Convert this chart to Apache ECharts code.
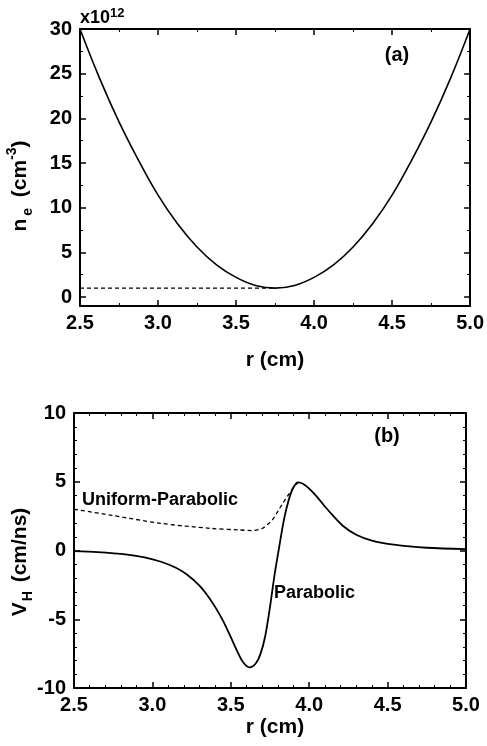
<!DOCTYPE html>
<html>
<head>
<meta charset="utf-8">
<script src="https://cdn.jsdelivr.net/npm/echarts@6/dist/echarts.min.js"></script>
<style>
html,body{margin:0;padding:0;background:#fff;}
#c{width:487px;height:746px;}
</style>
</head>
<body>
<div id="c"></div>
<script>
// ---- Panel (a): electron density profiles (x10^12 cm^-3) ----
var rA = [2.5, 2.625, 2.75, 2.875, 3.0, 3.125, 3.25, 3.375, 3.5, 3.625, 3.75, 3.875, 4.0, 4.125, 4.25, 4.375, 4.5, 4.625, 4.75, 4.875, 5.0];
var neParabolic = [30, 24.5, 19.6, 15.3, 11.4, 8.2, 5.6, 3.6, 2.2, 1.3, 1.0, 1.3, 2.2, 3.6, 5.6, 8.2, 11.4, 15.3, 19.6, 24.5, 30];
var rUniform = [2.5, 3.75];
var neUniform = [1.0, 1.0];

// ---- Panel (b): Hall velocity (cm/ns) ----
var rB = [2.5, 2.65, 2.84, 2.95, 3.05, 3.15, 3.22, 3.3, 3.35, 3.4, 3.45, 3.5, 3.54, 3.58, 3.62, 3.66, 3.69, 3.72, 3.75, 3.78, 3.81, 3.84, 3.87, 3.9, 3.93, 3.96, 4.0, 4.05, 4.1, 4.155, 4.22, 4.3, 4.4, 4.54, 4.75, 5.0];
var vParabolic = [-0.05, -0.12, -0.3, -0.5, -0.8, -1.25, -1.75, -2.55, -3.25, -4.1, -5.1, -6.3, -7.3, -8.15, -8.5, -8.2, -7.5, -6.2, -4.1, -1.7, 0.35, 2.3, 3.7, 4.6, 4.96, 4.85, 4.5, 3.9, 3.2, 2.5, 1.75, 1.15, 0.72, 0.42, 0.2, 0.1];
var rUP = [2.5, 2.73, 3.05, 3.37, 3.55, 3.64, 3.7, 3.74, 3.77, 3.8, 3.83, 3.87, 3.9, 3.93];
var vUniformParabolic = [3.0, 2.58, 1.98, 1.61, 1.5, 1.45, 1.6, 1.95, 2.3, 2.85, 3.4, 4.1, 4.6, 4.96];

function pairs(xs, ys) { return xs.map(function (x, i) { return [x, ys[i]]; }); }

var FONT = '"Liberation Sans", Arial, sans-serif';
var axisLine = { show: true, onZero: false, lineStyle: { color: '#000', width: 2 } };
function xAxisDef(gi, pos, labels, minorSplit) {
  return {
    type: 'value', gridIndex: gi, position: pos, min: 2.5, max: 5.0, interval: 0.5,
    axisLine: axisLine,
    axisTick: { show: true, inside: true, length: 6, lineStyle: { color: '#000', width: 1.5 } },
    minorTick: { show: true, splitNumber: minorSplit, length: 3, lineStyle: { color: '#000', width: 1 } },
    splitLine: { show: false },
    axisLabel: {
      show: labels, margin: 7, color: '#000', fontFamily: FONT, fontWeight: 'bold', fontSize: 20,
      formatter: function (v) { return v.toFixed(1); }
    }
  };
}
function yAxisDef(gi, pos, labels, opts) {
  var a = {
    type: 'value', gridIndex: gi, position: pos,
    axisLine: axisLine,
    axisTick: { show: true, inside: true, length: 6, lineStyle: { color: '#000', width: 1.5 } },
    minorTick: { show: true, splitNumber: opts.minorSplit, length: 3, lineStyle: { color: '#000', width: 1 } },
    splitLine: { show: false },
    axisLabel: {
      show: labels, margin: 8, color: '#000', fontFamily: FONT, fontWeight: 'bold', fontSize: 20,
      formatter: function (v) { return (Math.round(v) % 5 === 0 && Math.abs(v - Math.round(v)) < 1e-9) ? String(Math.round(v)) : ''; }
    }
  };
  for (var k in opts) if (k !== 'minorSplit') a[k] = opts[k];
  return a;
}

var chart = echarts.init(document.getElementById('c'), null, { renderer: 'canvas' });
chart.setOption({
  backgroundColor: '#fff',
  animation: false,
  grid: [
    { left: 80, top: 29, width: 391, height: 277 },
    { left: 74, top: 413, width: 392, height: 275 }
  ],
  xAxis: [
    xAxisDef(0, 'bottom', true, 2),
    xAxisDef(0, 'top', false, 2),
    xAxisDef(1, 'bottom', true, 5),
    xAxisDef(1, 'top', false, 5)
  ],
  yAxis: [
    yAxisDef(0, 'left', true, { min: -1, max: 30, splitNumber: 6, minorSplit: 2 }),
    yAxisDef(0, 'right', false, { min: -1, max: 30, splitNumber: 6, minorSplit: 2 }),
    yAxisDef(1, 'left', true, { min: -10, max: 10, interval: 5, minorSplit: 5 }),
    yAxisDef(1, 'right', false, { min: -10, max: 10, interval: 5, minorSplit: 5 })
  ],
  series: [
    { name: 'Parabolic (a)', type: 'line', xAxisIndex: 0, yAxisIndex: 0, data: pairs(rA, neParabolic), smooth: 0.4, showSymbol: false,
      lineStyle: { color: '#000', width: 1.6 } },
    { name: 'Uniform (a)', type: 'line', xAxisIndex: 0, yAxisIndex: 0, data: pairs(rUniform, neUniform), showSymbol: false,
      lineStyle: { color: '#000', width: 1.2, type: [4, 3] } },
    { name: 'Parabolic', type: 'line', xAxisIndex: 2, yAxisIndex: 2, data: pairs(rB, vParabolic), smooth: 0.3, showSymbol: false,
      lineStyle: { color: '#000', width: 1.8 } },
    { name: 'Uniform-Parabolic', type: 'line', xAxisIndex: 2, yAxisIndex: 2, data: pairs(rUP, vUniformParabolic), smooth: 0.3, showSymbol: false,
      lineStyle: { color: '#000', width: 1.3, type: [4, 3] } }
  ],
  graphic: [
    { type: 'text', left: 80, top: 7, style: {
      text: '{m|x10}{s|12}', fill: '#000',
      rich: { m: { fontFamily: FONT, fontWeight: 'bold', fontSize: 18, verticalAlign: 'bottom', lineHeight: 20 },
              s: { fontFamily: FONT, fontWeight: 'bold', fontSize: 13, verticalAlign: 'top', lineHeight: 20 } } } },
    { type: 'text', x: 397, y: 55, style: { text: '(a)', fill: '#000', font: 'bold 20px ' + FONT, textAlign: 'center', textVerticalAlign: 'middle' } },
    { type: 'text', x: 387, y: 436, style: { text: '(b)', fill: '#000', font: 'bold 20px ' + FONT, textAlign: 'center', textVerticalAlign: 'middle' } },
    { type: 'text', x: 82, y: 500, style: { text: 'Uniform-Parabolic', fill: '#000', font: 'bold 18px ' + FONT, textAlign: 'left', textVerticalAlign: 'middle' } },
    { type: 'text', x: 274, y: 593, style: { text: 'Parabolic', fill: '#000', font: 'bold 18px ' + FONT, textAlign: 'left', textVerticalAlign: 'middle' } },
    { type: 'text', x: 275, y: 360, style: { text: 'r (cm)', fill: '#000', font: 'bold 21px ' + FONT, textAlign: 'center', textVerticalAlign: 'middle' } },
    { type: 'text', x: 275, y: 727, style: { text: 'r (cm)', fill: '#000', font: 'bold 21px ' + FONT, textAlign: 'center', textVerticalAlign: 'middle' } },
    { type: 'text', x: 20, y: 186, rotation: Math.PI / 2, style: {
      text: '{m|n}{b|e}{m| (cm}{t|-3}{m|)}', fill: '#000', textAlign: 'center', textVerticalAlign: 'middle',
      rich: { m: { fontFamily: FONT, fontWeight: 'bold', fontSize: 21, lineHeight: 30, verticalAlign: 'middle' },
              b: { fontFamily: FONT, fontWeight: 'bold', fontSize: 14, lineHeight: 30, verticalAlign: 'bottom', padding: [0, 5, 0, 3] },
              t: { fontFamily: FONT, fontWeight: 'bold', fontSize: 14, lineHeight: 30, verticalAlign: 'top' } } } },
    { type: 'text', x: 20, y: 562, rotation: Math.PI / 2, style: {
      text: '{m|V}{b|H}{m| (cm/ns)}', fill: '#000', textAlign: 'center', textVerticalAlign: 'middle',
      rich: { m: { fontFamily: FONT, fontWeight: 'bold', fontSize: 21, lineHeight: 30, verticalAlign: 'middle' },
              b: { fontFamily: FONT, fontWeight: 'bold', fontSize: 14, lineHeight: 30, verticalAlign: 'bottom', padding: [0, 3, 0, 1] } } } }
  ]
});
</script>
</body>
</html>
